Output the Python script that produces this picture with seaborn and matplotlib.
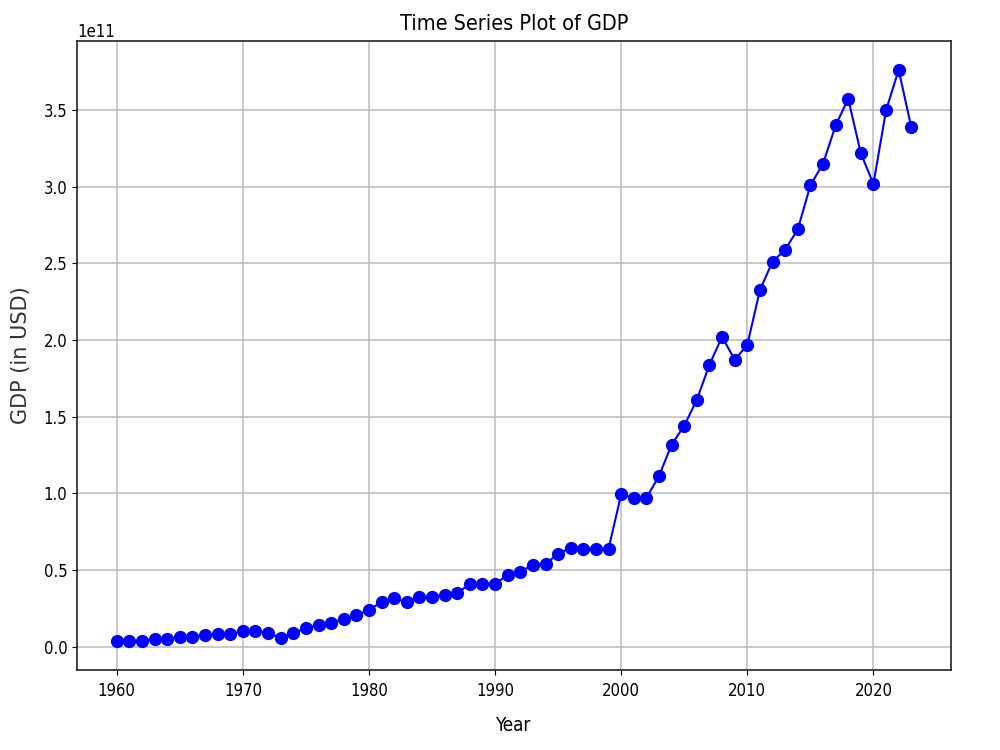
import matplotlib
matplotlib.use("Agg")
import matplotlib.pyplot as plt
import seaborn as sns
import pandas as pd

years = list(range(1960, 2024))
gdp_billion_usd = [
    3.5, 3.5, 3.8, 4.9, 5.1, 6.0, 6.0, 7.3, 8.4, 8.4,
    10.0, 10.0, 8.9, 5.6, 8.9, 11.8, 14.0, 15.6, 18.0, 20.4,
    24.0, 28.9, 31.8, 28.9, 32.2, 32.2, 33.3, 34.9, 40.7, 41.1,
    40.7, 46.8, 48.9, 53.2, 53.8, 60.6, 64.3, 63.8, 63.8, 63.8,
    99.4, 96.8, 97.0, 111.2, 131.7, 144.0, 161.0, 183.8, 202.0, 187.0,
    196.7, 232.5, 251.0, 258.8, 272.0, 300.7, 314.8, 339.8, 357.2, 321.7,
    301.7, 349.6, 376.1, 338.7,
]

title_text = "Time Series Plot of GDP"
x_label = "Year"
y_label = "GDP (in USD)"

df = pd.DataFrame({"Year": years, "GDP": [v * 1e9 for v in gdp_billion_usd]})

plt.rcParams["font.family"] = ["DejaVu Sans"]

fig = plt.figure(figsize=(10, 7.5), dpi=100)
ax = fig.add_axes([0.077, 0.107, 0.874, 0.838])

sns.lineplot(data=df, x="Year", y="GDP", ax=ax, color="blue", marker="o",
             markersize=8.5, markeredgecolor="blue", markeredgewidth=1,
             linewidth=1.5)

ax.grid(True, color="#bcbcbc", linewidth=1.1)
ax.set_axisbelow(True)

cond = dict(fontstretch="condensed")
ax.set_title(title_text, fontsize=15.5, pad=8, **cond)
ax.set_xlabel(x_label, fontsize=13.5, labelpad=12, **cond)
ax.set_ylabel(y_label, fontsize=15, labelpad=9, color="#333333")
ax.set_xticks([1960, 1970, 1980, 1990, 2000, 2010, 2020])
for lab in ax.get_xticklabels() + ax.get_yticklabels():
    lab.set_fontsize(12)
    lab.set_fontstretch("condensed")
ax.tick_params(axis="x", pad=5)
ax.yaxis.get_offset_text().set_fontsize(12)
ax.yaxis.get_offset_text().set_fontstretch("condensed")
for s in ax.spines.values():
    s.set_color("#222222")
    s.set_linewidth(1.2)

fig.savefig("out.png", dpi=100)
